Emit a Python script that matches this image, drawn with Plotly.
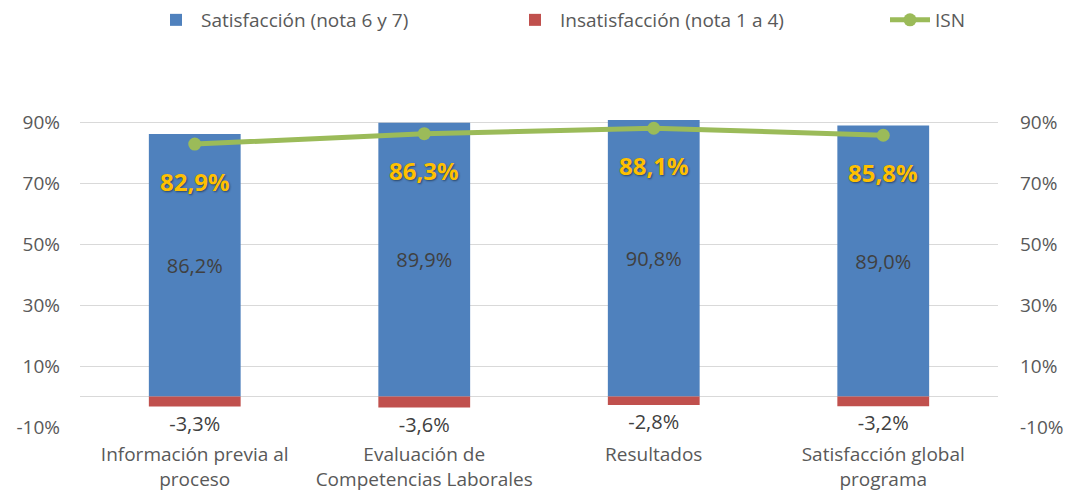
import plotly.graph_objects as go

categories = ["Información previa al<br>proceso", "Evaluación de<br>Competencias Laborales",
              "Resultados", "Satisfacción global<br>programa"]
satisfaccion = [86.2, 89.9, 90.8, 89.0]
insatisfaccion = [-3.3, -3.6, -2.8, -3.2]
isn = [82.9, 86.3, 88.1, 85.8]
tick_vals = [-10, 10, 30, 50, 70, 90]
tick_text = ["-10%", "10%", "30%", "50%", "70%", "90%"]

def fmt(v):
    return f"{v:.1f}%".replace(".", ",")

FONT = "Open Sans, sans-serif"
GRAY = "#595959"
DARK = "#404040"

OFF = 8  # default page body margin
W, H = 1073 - OFF, 493 - OFF
L, R, T, B = 80 - OFF, 75, 92 - OFF, 66
PW = W - L - R
PH = H - T - B

def px_x(p):
    return (p - OFF - L) / PW

fig = go.Figure()
fig.add_trace(go.Bar(
    x=categories, y=satisfaccion, name="Satisfacción (nota 6 y 7)",
    marker=dict(color="#4F81BD", line=dict(width=0)),
    text=[fmt(v) for v in satisfaccion], textposition="inside",
    insidetextanchor="middle", textangle=0,
    textfont=dict(family=FONT, size=20, color=DARK), width=0.4,
    legend="legend",
))
fig.add_trace(go.Bar(
    x=categories, y=insatisfaccion, name="Insatisfacción (nota 1 a 4)",
    marker=dict(color="#C0504D", line=dict(width=0)),
    text=[fmt(v) for v in insatisfaccion], textposition="outside",
    textangle=0, cliponaxis=False,
    textfont=dict(family=FONT, size=20, color=DARK), width=0.4,
    legend="legend2",
))
fig.add_trace(go.Scatter(
    x=categories, y=isn, name="ISN", mode="lines+markers", yaxis="y2",
    line=dict(color="#9BBB59", width=5),
    marker=dict(color="#9BBB59", size=13),
    legend="legend3",
))

for c, v in zip(categories, isn):
    fig.add_annotation(
        x=c, y=v, yref="y2", text=f"<b>{fmt(v)}</b>", showarrow=False,
        yshift=-37,
        font=dict(family=FONT, size=24, color="#FFC000",
                  shadow="1px 1px 2px rgba(0,0,0,0.45)"),
    )

yax = dict(range=[-10, 100], tickvals=tick_vals, ticktext=tick_text,
           tickfont=dict(family=FONT, size=19, color=GRAY))
leg_y = 1 + (T - (20 - OFF)) / PH
leg_common = dict(orientation="h", yanchor="middle", y=leg_y, xanchor="left",
                  font=dict(family=FONT, size=19, color=GRAY),
                  bgcolor="rgba(0,0,0,0)", itemwidth=40)
fig.update_layout(
    width=W, height=H,
    barmode="relative",
    paper_bgcolor="white", plot_bgcolor="white",
    margin=dict(l=L, r=R, t=T, b=B, autoexpand=False),
    font=dict(family=FONT, color=GRAY),
    xaxis=dict(tickfont=dict(family=FONT, size=19, color=GRAY), showline=False,
               ticks="", ticklabelstandoff=14),
    yaxis=dict(**yax, showgrid=True, gridcolor="#D9D9D9", gridwidth=1,
               zeroline=True, zerolinecolor="#D9D9D9", zerolinewidth=1,
               ticklabelstandoff=19),
    yaxis2=dict(**yax, overlaying="y", side="right", showgrid=False,
                zeroline=False, ticklabelstandoff=21),
    legend=dict(**leg_common, x=px_x(151)),
    legend2=dict(**leg_common, x=px_x(510)),
    legend3=dict(**leg_common, x=px_x(885)),
    showlegend=True,
)

fig.write_html("out.html")
